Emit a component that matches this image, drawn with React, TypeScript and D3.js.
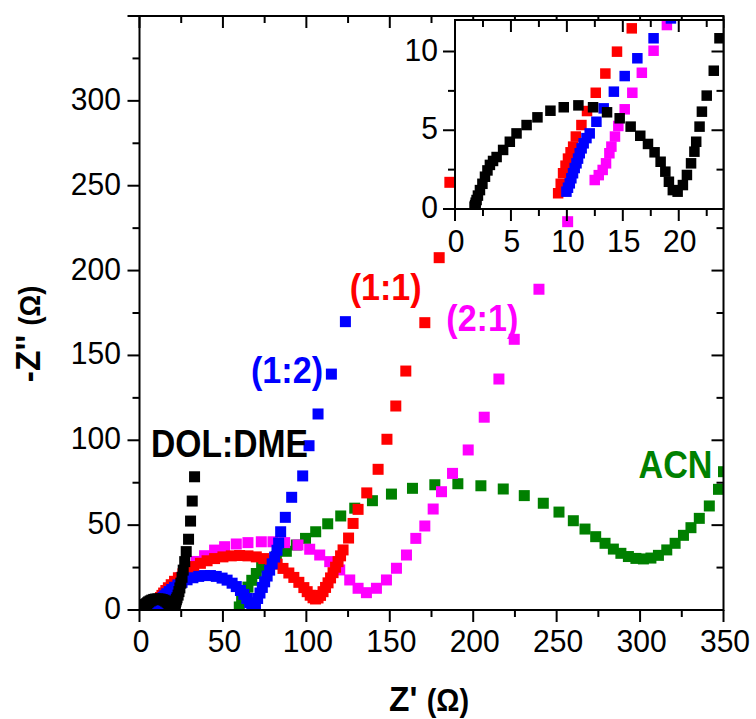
import React from "react";
import * as d3 from "d3";

// ---------- data (Z' and -Z'' in ohm) ----------
const dolRe = [1.75, 1.8, 1.85, 1.93, 2.05, 2.23, 2.45, 2.68, 2.9, 3.12, 3.4, 3.72, 4.3, 4.9, 5.5, 6.4, 7.37, 8.53, 9.72, 11.03, 12.34, 13.59, 14.72, 15.7, 16.56, 17.25, 17.84, 18.38, 18.8, 19.12, 19.47, 19.9, 20.37, 20.73, 21.1, 21.4, 21.56, 21.86, 22.07, 22.5, 23.13, 23.64, 24.2, 24.8, 25.5, 26.2, 27.1, 28.0, 29.4, 30.6, 31.6, 33.0];
const dolIm = [0.15, 0.25, 0.4, 0.57, 0.85, 1.2, 1.6, 2.05, 2.45, 2.8, 3.05, 3.3, 3.75, 4.27, 4.8, 5.33, 5.82, 6.24, 6.46, 6.58, 6.46, 6.14, 5.76, 5.23, 4.65, 4.13, 3.6, 3.0, 2.37, 1.73, 1.2, 1.1, 1.52, 2.16, 2.9, 3.64, 4.27, 5.23, 6.18, 7.2, 8.78, 10.84, 13.0, 15.8, 19.3, 23.5, 28.5, 34.4, 41.7, 52.4, 64.2, 78.5];

const r11Re = [9.22, 9.45, 9.66, 9.88, 10.1, 10.33, 10.56, 10.8, 11.3, 11.8, 12.58, 13.44, 14.48, 15.8, 17.3, 19.0, 21.0, 23.3, 26.0, 29.0, 32.5, 36.5, 40.5, 45.0, 50.0, 55.0, 60.0, 65.0, 70.0, 74.5, 78.5, 82.5, 86.0, 89.5, 92.5, 95.5, 98.5, 100.5, 102.3, 104.0, 105.5, 107.0, 108.5, 110.0, 111.5, 113.0, 114.5, 116.0, 117.5, 119.0, 120.5, 122.0, 125.3, 128.0, 131.0, 136.2, 143.0, 148.3, 153.6, 159.6, 171.0, 179.6, 186.0];
const r11Im = [1.0, 1.6, 2.27, 2.75, 3.2, 3.6, 3.96, 4.6, 5.33, 6.22, 7.38, 8.6, 9.99, 11.47, 13.1, 14.9, 16.9, 19.0, 21.3, 23.5, 25.6, 27.5, 29.0, 30.3, 31.3, 31.9, 32.1, 31.9, 31.3, 30.3, 29.0, 27.0, 24.5, 21.8, 19.2, 16.3, 13.2, 10.8, 8.7, 7.2, 6.5, 7.1, 8.6, 10.8, 13.3, 16.0, 18.9, 22.0, 25.2, 28.5, 31.9, 35.4, 42.4, 51.0, 59.3, 69.0, 82.9, 100.6, 120.2, 140.8, 169.3, 207.6, 252.0];

const r21Re = [12.49, 12.85, 13.2, 13.5, 13.8, 13.98, 14.3, 14.6, 15.17, 15.85, 16.7, 17.75, 18.94, 20.5, 22.3, 24.5, 27.0, 30.0, 34.0, 39.0, 45.0, 51.0, 58.0, 65.0, 73.0, 80.0, 87.0, 95.0, 102.0, 108.0, 114.0, 120.0, 126.0, 131.0, 136.0, 142.0, 148.0, 154.0, 160.0, 165.6, 171.0, 176.0, 181.0, 187.6, 197.0, 206.6, 215.4, 224.6, 239.4, 256.6];
const r21Im = [1.84, 2.15, 2.48, 2.9, 3.54, 3.96, 4.6, 5.27, 6.33, 7.38, 8.65, 10.05, 11.68, 13.8, 16.2, 19.0, 22.0, 25.2, 28.6, 32.0, 35.3, 37.3, 38.9, 39.7, 40.2, 40.2, 39.7, 38.3, 35.8, 32.4, 28.5, 23.6, 17.7, 12.8, 10.2, 12.8, 17.7, 24.6, 32.4, 42.2, 49.5, 59.5, 69.7, 80.5, 94.3, 113.6, 136.1, 159.5, 189.0, 228.8];

const r12Re = [9.96, 10.1, 10.26, 10.4, 10.55, 10.7, 10.86, 11.0, 11.15, 11.32, 11.5, 11.75, 12.04, 12.64, 13.29, 14.2, 15.17, 16.3, 17.75, 19.3, 21.0, 23.0, 25.5, 28.5, 32.0, 35.5, 39.0, 42.5, 46.0, 49.5, 52.5, 55.5, 58.0, 60.5, 62.5, 64.3, 66.0, 67.3, 68.4, 69.5, 70.8, 72.2, 73.6, 75.0, 76.5, 78.0, 79.5, 81.0, 82.4, 83.4, 84.6, 87.4, 91.2, 97.8, 101.6, 107.0, 115.0, 123.4];
const r12Im = [1.1, 1.35, 1.63, 1.95, 2.27, 2.6, 2.9, 3.2, 3.54, 3.85, 4.17, 4.5, 4.8, 5.54, 6.39, 7.45, 8.44, 9.57, 10.84, 12.1, 13.4, 14.8, 16.3, 17.8, 19.0, 19.8, 20.3, 20.3, 19.8, 18.8, 17.6, 15.8, 13.8, 11.5, 9.2, 6.8, 4.3, 2.3, 1.3, 3.8, 6.8, 10.0, 13.3, 16.6, 20.0, 23.5, 27.2, 31.2, 35.2, 39.5, 46.1, 54.6, 66.4, 79.0, 96.8, 115.5, 139.0, 169.9];

const acnRe = [59.8, 61.2, 63.0, 65.0, 67.3, 70.0, 73.2, 77.0, 82.0, 88.0, 94.0, 99.5, 105.6, 112.8, 120.6, 129.0, 139.6, 151.0, 163.6, 177.0, 190.8, 204.6, 218.0, 230.6, 242.0, 251.4, 260.0, 267.0, 273.4, 279.0, 284.0, 288.5, 293.0, 297.5, 302.0, 306.5, 311.0, 316.0, 321.0, 326.0, 330.5, 335.5, 341.5, 347.0, 350.0];
const acnIm = [1.8, 5.5, 9.5, 13.5, 17.5, 21.5, 25.3, 28.6, 31.6, 34.6, 38.3, 42.2, 46.1, 50.8, 55.4, 60.0, 64.4, 68.3, 71.7, 73.8, 74.4, 73.2, 71.3, 67.4, 62.9, 57.7, 52.6, 47.7, 43.2, 39.3, 35.9, 33.4, 31.5, 30.4, 30.1, 30.6, 32.2, 35.4, 39.3, 44.0, 48.5, 54.0, 61.3, 71.1, 81.5];

const mainXTicks = [0, 50, 100, 150, 200, 250, 300, 350];
const mainYTicks = [0, 50, 100, 150, 200, 250, 300];
const insetXTicks = [0, 5, 10, 15, 20];
const insetYTicks = [0, 5, 10];

const seriesNames = ["ACN", "(2:1)", "(1:1)", "(1:2)", "DOL:DME"];
const seriesColors = ["#008000", "#ff00ff", "#ff0000", "#0000ff", "#000000"];
const seriesRe = [acnRe, r21Re, r11Re, r12Re, dolRe];
const seriesIm = [acnIm, r21Im, r11Im, r12Im, dolIm];

const FONT = '"Liberation Sans", Arial, Helvetica, sans-serif';

export default function App() {
  const W = 756, H = 719;
  const x = d3.scaleLinear().domain([0, 350]).range([139.5, 723.5]);
  const y = d3.scaleLinear().domain([0, 350]).range([610, 16]);
  const ix = d3.scaleLinear().domain([0, 24]).range([455, 723.5]);
  const iy = d3.scaleLinear().domain([0, 12]).range([209, 20]);

  const MAJ = 12, MIN = 7;
  const mainMajX = d3.range(0, 351, 50);
  const mainMinX = d3.range(25, 350, 50);
  const mainMajY = d3.range(0, 351, 50);
  const mainMinY = d3.range(25, 350, 50);
  const inMajX = d3.range(0, 24.1, 5);
  const inMinX = d3.range(2.5, 24, 5);
  const inMajY = d3.range(0, 12.1, 5);
  const inMinY = d3.range(2.5, 12, 5);

  const S = 11;

  const markers = (sx: any, sy: any, size: number) =>
    seriesRe.map((re, si) => (
      <g key={si} fill={seriesColors[si]}>
        {re.map((v, i) => (
          <rect
            key={i}
            x={sx(v) - size / 2}
            y={sy(seriesIm[si][i]) - size / 2}
            width={size}
            height={size}
          />
        ))}
      </g>
    ));

  const frame = (sx: any, sy: any, majX: number[], minX: number[], majY: number[], minY: number[]) => {
    const [x0, x1] = sx.range();
    const [y0, y1] = sy.range();
    const lines: any[] = [];
    const t = (k: string, a: number, b: number, c: number, d: number) =>
      lines.push(<line key={k} x1={a} y1={b} x2={c} y2={d} />);
    majX.forEach((v) => {
      const p = sx(v);
      t("bx" + v, p, y0, p, y0 + MAJ);
      t("tx" + v, p, y1, p, y1 + MAJ);
    });
    minX.forEach((v) => {
      const p = sx(v);
      t("bmx" + v, p, y0, p, y0 + MIN);
      t("tmx" + v, p, y1, p, y1 + MIN);
    });
    majY.forEach((v) => {
      const p = sy(v);
      t("ly" + v, x0, p, x0 - MAJ, p);
      t("ry" + v, x1, p, x1 - MAJ, p);
    });
    minY.forEach((v) => {
      const p = sy(v);
      t("lmy" + v, x0, p, x0 - MIN, p);
      t("rmy" + v, x1, p, x1 - MIN, p);
    });
    return (
      <g stroke="#000" strokeWidth={2} fill="none">
        {lines}
        <rect x={x0} y={y1} width={x1 - x0} height={y0 - y1} />
      </g>
    );
  };

  const tickText = (key: string, tx: number, ty: number, anchor: string, label: string) => (
    <text
      key={key}
      transform={`translate(${tx},${ty}) scale(0.97,1)`}
      textAnchor={anchor}
      fontSize={31}
      fontFamily={FONT}
      fill="#000"
    >
      {label}
    </text>
  );

  const label = (txt: string, lx: number, ly: number, len: number, size: number, color: string) => (
    <text
      x={lx}
      y={ly}
      textLength={len}
      lengthAdjust="spacingAndGlyphs"
      fontSize={size}
      fontWeight="bold"
      fontFamily={FONT}
      fill={color}
    >
      {txt}
    </text>
  );

  return (
    <svg
      width={W}
      height={H}
      viewBox={`0 0 ${W} ${H}`}
      style={{ position: "absolute", left: 0, top: 0, background: "#fff" }}
    >
      <defs>
        <clipPath id="mainClip">
          <rect x={139.5} y={16} width={584} height={594} />
        </clipPath>
        <clipPath id="insetClip">
          <rect x={455} y={20} width={268.5} height={189} />
        </clipPath>
      </defs>

      {/* main plot */}
      <g clipPath="url(#mainClip)">{markers(x, y, S)}</g>
      {frame(x, y, mainMajX, mainMinX, mainMajY, mainMinY)}
      {mainXTicks.map((v) => tickText("mx" + v, x(v) + 1.5, 652, "middle", String(v)))}
      {mainYTicks.map((v) => tickText("my" + v, 121, y(v) + 9, "end", String(v)))}

      {/* series labels */}
      {label(seriesNames[4], 151, 456.5, 157, 39, seriesColors[4])}
      {label(seriesNames[3], 251, 382.5, 72, 36, seriesColors[3])}
      {label(seriesNames[2], 349.7, 300, 72, 36, seriesColors[2])}
      {label(seriesNames[1], 446.3, 330.5, 72, 36, seriesColors[1])}
      {label(seriesNames[0], 638.5, 478, 74, 39, seriesColors[0])}

      {/* axis titles */}
      <text
        transform="translate(429,711) scale(0.93,1)"
        textAnchor="middle"
        fontFamily={FONT}
        fontWeight="bold"
        fill="#000"
      >
        <tspan fontSize={36}>Z' </tspan>
        <tspan fontSize={31}>(Ω)</tspan>
      </text>
      <text
        transform="translate(40,334) rotate(-90) scale(0.93,1)"
        textAnchor="middle"
        fontFamily={FONT}
        fontWeight="bold"
        fill="#000"
      >
        <tspan fontSize={36}>-Z'' </tspan>
        <tspan fontSize={29}>(Ω)</tspan>
      </text>

      {/* inset */}
      <rect x={455} y={20} width={268.5} height={189} fill="#fff" />
      <g clipPath="url(#insetClip)">{markers(ix, iy, 10.5)}</g>
      {frame(ix, iy, inMajX, inMinX, inMajY, inMinY)}
      {insetXTicks.map((v) => tickText("ix" + v, ix(v) + 1, 252, "middle", String(v)))}
      {insetYTicks.map((v) => tickText("iy" + v, 438, iy(v) + 9, "end", String(v)))}
    </svg>
  );
}
